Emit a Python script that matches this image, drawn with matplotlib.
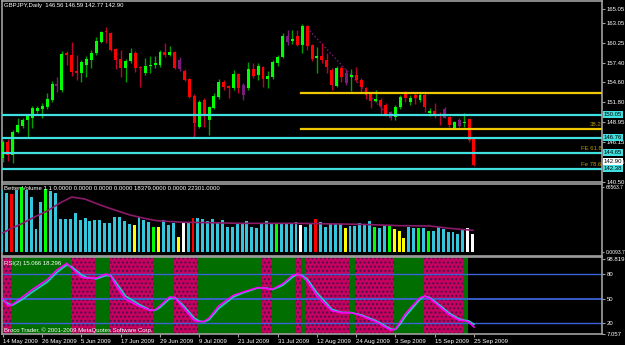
import numpy as np
import matplotlib.pyplot as plt
from matplotlib.transforms import blended_transform_factory

plt.rcParams['font.family'] = ['Liberation Sans', 'DejaVu Sans']
FS = 4.3

# daily GBPJPY bars, 14 May 2009 .. 25 Sep 2009
opens = [143.9, 146.1, 144.35, 147.6, 148.45, 149.3, 149.6, 150.6, 150.9, 151.1,
         152.1, 154.4, 153.55, 158.8, 158.5, 156.2, 155.95, 157.1, 157.8, 158.8,
         160.3, 161.8, 161.6, 159.35, 157.9, 156.7, 157.65, 158.8, 156.7, 155.95,
         157.0, 157.1, 157.1, 158.9, 158.5, 158.9, 157.8, 156.2, 155.1, 152.7,
         148.3, 152.1, 149.3, 151.0, 152.55, 154.7, 154.1, 153.8, 155.8, 154.2,
         153.85, 156.5, 155.7, 156.8, 155.1, 155.4, 157.4, 158.2, 161.2, 160.5,
         161.2, 159.9, 162.6, 159.9, 158.05, 158.35, 157.8, 156.4, 154.1, 156.65,
         156.0, 155.4, 155.65, 154.95, 153.85, 153.0, 152.0, 152.1, 151.4, 150.4,
         149.7, 151.15, 153.1, 151.85, 152.85, 152.1, 152.85, 150.3, 150.55, 150.05,
         150.9, 149.7, 148.15, 149.3, 148.9, 149.45, 146.56]
highs = [146.4, 146.6, 147.8, 149.5, 149.5, 150.0, 151.3, 151.3, 151.7, 153.1,
         154.8, 155.4, 159.1, 159.0, 160.3, 158.5, 157.8, 158.4, 159.2, 161.1,
         161.9, 162.5, 161.8, 159.5, 159.2, 157.9, 159.5, 159.0, 157.0, 158.1,
         158.3, 158.3, 159.2, 160.2, 159.7, 159.1, 158.2, 156.5, 155.3, 152.9,
         152.1, 152.4, 151.3, 153.1, 155.05, 155.0, 154.3, 156.4, 156.0, 154.5,
         157.5, 157.3, 157.4, 157.0, 156.2, 157.8, 158.5, 161.65, 162.0, 162.0,
         162.1, 162.9, 162.8, 160.1, 159.6, 160.15, 158.8, 156.6, 156.95, 157.0,
         156.5, 156.5, 156.8, 155.2, 154.0, 153.2, 153.6, 152.4, 151.7, 150.6,
         151.4, 152.8, 153.4, 152.85, 153.1, 153.1, 153.1, 151.0, 151.65, 150.45,
         151.1, 149.9, 149.2, 149.6, 150.25, 149.6, 146.59]
lows = [143.4, 143.5, 143.2, 147.4, 148.1, 146.9, 148.2, 150.3, 149.5, 150.9,
        151.9, 153.3, 153.3, 157.1, 155.5, 155.0, 154.7, 155.4, 156.7, 158.5,
        160.2, 160.2, 159.0, 156.5, 155.4, 154.7, 157.4, 156.1, 154.0, 155.7,
        155.9, 156.6, 156.8, 158.2, 158.3, 156.5, 156.2, 154.8, 152.4, 146.9,
        148.1, 148.3, 147.2, 150.8, 152.3, 153.5, 152.4, 153.6, 153.1, 152.1,
        153.6, 155.3, 155.0, 154.0, 153.8, 155.1, 157.0, 158.0, 159.9, 160.1,
        159.7, 158.8, 159.2, 157.7, 155.95, 157.3, 155.95, 153.55, 153.9, 154.6,
        154.3, 153.4, 154.6, 153.3, 152.2, 151.0, 151.8, 150.3, 149.8, 149.3,
        149.3, 150.9, 151.8, 151.4, 151.6, 151.9, 150.4, 149.8, 149.5, 148.6,
        149.5, 148.35, 148.0, 148.3, 148.35, 146.2, 142.77]
closes = [146.2, 144.35, 147.6, 148.6, 149.3, 149.8, 151.0, 151.0, 151.3, 152.3,
          154.4, 154.1, 158.6, 158.5, 156.1, 155.95, 157.5, 157.9, 158.8, 160.5,
          161.75, 161.7, 159.2, 157.8, 156.7, 157.65, 158.8, 156.7, 156.6, 156.95,
          157.1, 157.4, 158.9, 158.5, 158.9, 156.7, 156.5, 155.0, 152.55, 148.9,
          151.85, 150.0, 151.1, 152.7, 154.7, 153.95, 153.8, 155.8, 153.85, 152.8,
          156.5, 155.5, 156.95, 155.1, 155.5, 157.5, 158.2, 161.2, 160.3, 160.7,
          159.9, 162.6, 159.8, 157.95, 158.35, 157.8, 156.8, 154.25, 156.65, 155.4,
          154.5, 155.65, 154.95, 153.95, 152.85, 152.0, 152.25, 151.2, 150.1, 149.6,
          151.1, 152.55, 152.4, 152.4, 152.4, 152.85, 151.15, 150.55, 150.15, 149.95,
          149.6, 148.6, 149.0, 148.4, 149.05, 146.5, 142.90]
purple_bars = [11, 36, 49, 58, 70, 79, 90, 93]

# horizontal levels
cyan_levels = [150.05, 146.76, 144.65, 142.38]
gold_levels = [153.16, 147.98]
gold_start = 60.7
fibo_text = ['38.2', 'FE 61.8', 'Fe 78.6']
fibo_price = [147.98, 144.65, 142.38]
trend_x = [62, 79]
trend_y = [162.3, 149.6]
last_price = 142.90
price_ticks = [165.05, 163.05, 160.25, 157.40, 154.60, 151.80, 148.95, 146.15, 143.35, 140.50]

# Better Volume
volumes = [63800, 61000, 59700, 63800, 66563.7, 63800, 56600, 23700, 51500, 64800,
           62800, 60700, 33900, 33600, 33600, 40400, 32900, 35300, 32200, 32900,
           32900, 29500, 30200, 36300, 36300, 32200, 28500, 27500, 36300, 32900,
           31200, 25700, 25700, 32900, 27800, 30200, 15100, 29500, 30200, 35000,
           34700, 33600, 31900, 33600, 30200, 32600, 26000, 26000, 28500, 28500,
           31600, 26000, 24400, 29100, 31600, 29100, 29100, 30200, 30200, 29500,
           30600, 27500, 26000, 28500, 33600, 30600, 26000, 28500, 28500, 28500,
           24400, 26800, 26800, 29500, 28500, 31600, 26000, 25000, 28100, 27500,
           23700, 21900, 14700, 26000, 25000, 25000, 25000, 21900, 21900, 26000,
           23300, 20900, 20300, 18800, 22600, 25000, 18379]
vol_red = [2, 39, 64]
vol_green = [4, 9, 31, 56, 76, 79, 85, 87]
vol_yellow = [27, 32, 36, 70, 80, 81, 82]
vol_white = [37, 61, 95, 96]
vma_x = [0, 1.4, 3.5, 6, 9, 11.6, 14, 16.7, 19.8, 22.8, 25.9, 29, 31.4, 36.7,
         42.2, 48.3, 60.5, 72.8, 80.9, 87, 91, 95.8]
vma_y = [19600, 23700, 28300, 35000, 42200, 50400, 56600, 54500, 48400, 43200,
         38100, 34500, 32200, 30600, 30200, 29500, 29500, 28500, 27100, 26800,
         24400, 22301]

# RSI(2) and its signal
rsi_x = [0, 1, 2, 4, 6, 9, 11, 13, 14, 16, 17, 19, 21, 22, 23, 25, 28, 30, 31, 32,
         34, 35, 37, 39, 40, 41, 42, 44, 47, 49, 52, 54, 55, 57, 59, 60, 61, 62, 64,
         66, 67, 69, 71, 73, 76, 79, 80, 81, 82, 83, 85, 86, 87, 89, 91, 93, 94, 95, 96]
rsi_main = [50, 41, 43, 52, 61, 73, 85, 93, 87, 76, 75, 75, 80, 77, 66, 49, 40, 35.5, 36, 41,
            52, 51, 37, 23, 21.6, 22, 26, 41, 54, 58, 63.5, 62, 61.5, 68, 78, 80, 77, 71, 53,
            41, 35, 32.6, 32.6, 29, 21.6, 11.4, 12.5, 22, 31, 38, 51, 53, 50, 40, 30, 23.5, 23, 21, 15.066]
rsi_sig = [48, 44, 42, 49, 58, 70, 82, 91, 89, 79, 76, 74, 78, 78, 70, 53, 42, 36, 35.5, 39,
           50, 51.5, 40, 26, 22.5, 21.5, 24, 38, 52, 57, 63, 62.5, 61, 66, 76, 79.5, 78, 74, 57,
           44, 37, 33, 32.8, 30, 23, 13, 12, 19, 28, 35, 49, 53, 51, 42, 32, 25, 23.5, 22.5, 18.296]
band_start = [0, 3, 15, 20, 23, 32, 36, 41, 54, 56, 61, 62, 63, 72, 73, 81, 87, 95]
band_end = [2, 14, 19, 22, 31, 35, 40, 53, 55, 60, 61, 62, 71, 72, 80, 86, 94, 95]
band_kind = ['dn', 'up'] * 9

date_labels = ['14 May 2009', '26 May 2009', '5 Jun 2009', '17 Jun 2009', '29 Jun 2009',
               '9 Jul 2009', '21 Jul 2009', '31 Jul 2009', '12 Aug 2009', '24 Aug 2009',
               '3 Sep 2009', '15 Sep 2009', '25 Sep 2009']

W, H = 625, 345
fig = plt.figure(figsize=(W / 100, H / 100), dpi=100, facecolor='black')


def panel(top, bottom):
    ax = fig.add_axes([2 / W, 1 - bottom / H, 600 / W, (bottom - top) / H])
    ax.set_facecolor('black')
    for s in ax.spines.values():
        s.set_color('#a0a0a0')
        s.set_linewidth(1.2)
    ax.set_xlim(-0.2, 122.1)
    ax.yaxis.tick_right()
    ax.tick_params(axis='y', colors='#a0a0a0', labelcolor='white', labelsize=FS, length=2, pad=1.5)
    ax.tick_params(axis='x', bottom=False, labelbottom=False)
    return ax


txt = dict(color='white', fontsize=FS, va='center', ha='left')

# ---- price panel
ax1 = panel(1, 182)
ax1.set_ylim(140.53, 166.14)
ax1.set_yticks(price_ticks)
ax1.set_yticklabels([f'{v:.2f}' for v in price_ticks])
x = np.arange(len(opens))
o, h, l, c = map(np.array, (opens, highs, lows, closes))
body_col, wick_col = [], []
for i in x:
    if i in purple_bars:
        body_col.append('#7a1c7a'); wick_col.append('#7a1c7a')
    elif c[i] >= o[i]:
        body_col.append('#00ff00'); wick_col.append('#00a000')
    else:
        body_col.append('#ff0000'); wick_col.append('#c00030')
ax1.vlines(x, l, h, colors=wick_col, linewidth=1, zorder=3)
ax1.bar(x, np.maximum(np.abs(c - o), 0.12), bottom=np.minimum(o, c), width=0.6,
        color=body_col, linewidth=0, zorder=4)
ax1.plot(trend_x, trend_y, color='#8a108a', linestyle=':', linewidth=1, zorder=2)
for v in cyan_levels:
    ax1.axhline(v, color='#40e0e0', linewidth=1.6, zorder=5)
for v in gold_levels:
    ax1.plot([gold_start, 122.1], [v, v], color='#f0c800', linewidth=1.6, zorder=5)
for t, v in zip(fibo_text, fibo_price):
    ax1.text(122.0, v + 0.25, t, color='#b89c00', fontsize=FS, ha='right', va='bottom', zorder=6)
bt = blended_transform_factory(ax1.transAxes, ax1.transData)
box = dict(fontsize=FS, color='black', va='center', ha='left', clip_on=False, zorder=7)
for v in cyan_levels:
    ax1.text(1.003, v, f'{v:.2f}', transform=bt,
             bbox=dict(boxstyle='square,pad=0.15', fc='#40e0e0', ec='none'), **box)
ax1.annotate(f'{last_price:.2f}', xy=(1.003, last_price), xycoords=bt,
             xytext=(0, 2.6), textcoords='offset points',
             bbox=dict(boxstyle='square,pad=0.15', fc='white', ec='none'), **box)
fig.text(4 / W, 1 - 6 / H, 'GBPJPY,Daily  146.56 146.59 142.77 142.90', **txt)

# ---- volume panel
ax2 = panel(184, 256)
ax2.set_ylim(-4100, 70000)
ax2.set_yticks([66563.7, 0])
ax2.set_yticklabels(['66563.7', '0.0093.7'])
ax2.tick_params(axis='y', labelsize=3.6, length=1.5, pad=1)
vcol = []
for i in x:
    if i in vol_red:
        vcol.append('#ff0000')
    elif i in vol_green:
        vcol.append('#00ff00')
    elif i in vol_yellow:
        vcol.append('#ffff00')
    elif i in vol_white:
        vcol.append('white')
    else:
        vcol.append('#34c6dc')
fig.text(4 / W, 1 - 189 / H,
         'Better Volume 1.1 0.0000 0.0000 0.0000 0.0000 18379.0000 0.0000 22301.0000', **txt)
ax2.bar(x - 0.27, volumes, width=0.6, color=vcol, linewidth=0, zorder=3)
ax2.plot(vma_x, vma_y, color='#8b1a6b', linewidth=1.2, zorder=4)

# ---- RSI panel
ax3 = panel(257, 334)
ax3.set_ylim(6.6, 100.8)
ax3.set_yticks([98.819, 80, 50, 20, 7.057])
ax3.set_yticklabels(['98.819', '80', '50', '20', '7.057'])
for s, e, k in zip(band_start, band_end, band_kind):
    if k == 'up':
        ax3.axvspan(s - 1.2, e - 0.2, color='#006e00', linewidth=0, zorder=1)
    else:
        ax3.axvspan(s - 1.2, e - 0.2, facecolor='#c8005e', edgecolor='#4a1050',
                    hatch='....', linewidth=0, zorder=1)
for v, lw in ((80, 1.0), (50, 1.3), (20, 1.0)):
    ax3.axhline(v, color='#3c64d8', linewidth=lw, zorder=2)
ax3.plot(rsi_x, rsi_sig, color='#20c8c8', linewidth=1.2, zorder=3)
ax3.plot(rsi_x, rsi_main, color='#ff00ff', linewidth=1.2, zorder=4)
ax3.set_xticks(np.arange(0, 97, 8))
ax3.set_xticklabels(date_labels)
ax3.tick_params(axis='x', bottom=True, labelbottom=True, colors='#a0a0a0',
                labelcolor='white', labelsize=FS, length=2, pad=1.5)
for lab in ax3.get_xticklabels():
    lab.set_ha('left')
fig.text(4 / W, 1 - 263 / H, 'RSI(2) 15.066 18.296', **txt)
fig.text(4 / W, 1 - 330 / H, 'Broco Trader, \u00a9 2001-2009 MetaQuotes Software Corp.', **txt)

fig.savefig('out.png', dpi=100, facecolor='black')
